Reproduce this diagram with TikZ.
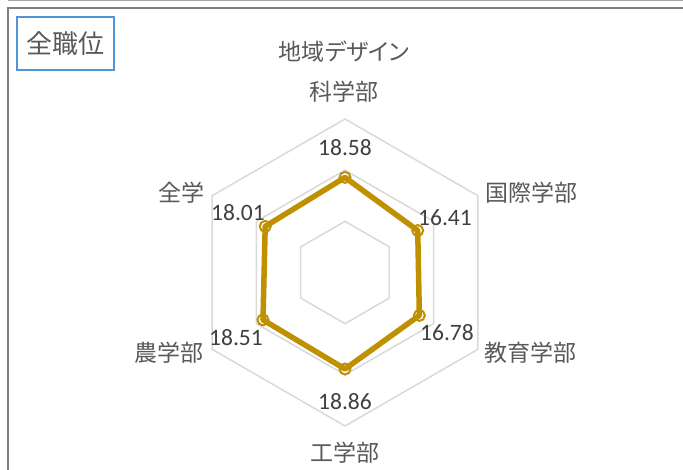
\documentclass[tikz,border=0pt]{standalone}
\usepackage{fontspec}
\newfontfamily\jpfont{Noto Sans CJK JP}
\newfontfamily\jppfont[RawFeature=+palt]{Noto Sans CJK JP}
\newfontfamily\numfont{Carlito}
\definecolor{gridc}{HTML}{D9D9D9}
\definecolor{serc}{HTML}{BF9000}
\definecolor{catc}{HTML}{595959}
\definecolor{valc}{HTML}{404040}
\definecolor{boxc}{HTML}{4F95D8}
\definecolor{framec}{HTML}{7F7F7F}
\definecolor{topc}{HTML}{A6A6A6}
\begin{document}
\begin{tikzpicture}[x=1bp,y=1bp,
  cat/.style={text=catc,font=\jpfont\fontsize{23bp}{26bp}\selectfont,inner sep=0pt},
  val/.style={text=valc,font=\numfont\fontsize{23.5bp}{26bp}\selectfont,inner sep=0pt},
  titletext/.style={inner sep=0pt,text=catc,font=\jpfont\fontsize{26bp}{30bp}\selectfont},
  boxline/.style={draw=boxc,line width=2bp},
  gridline/.style={gridc,line width=1.5bp,line join=miter},
  series/.style={serc,line width=5.5bp,line join=round},
  marker/.style={serc,line width=2bp}]
\useasboundingbox (0,0) rectangle (683,-470);
\fill[white] (0,0) rectangle (683,-470);
% outer frame
\draw[topc,line width=1.5bp] (8,-0.75) -- (690,-0.75);
\draw[framec,line width=2bp] (8,-480) -- (8,-8) -- (690,-8);
% title
\node[titletext] (title) at (65.5,-43.5) {全職位};
\draw[boxline] ([xshift=-48bp,yshift=26.5bp]title.center) rectangle ([xshift=48bp,yshift=-26.5bp]title.center);
% radar
\begin{scope}[shift={(345,-272.5)}]
  \foreach \r in {51.17,102.33,153.5}
    \draw[gridline] (90:\r) -- (30:\r) -- (-30:\r) -- (-90:\r) -- (-150:\r) -- (150:\r) -- cycle;
  \coordinate (p1) at (90:95.07);
  \coordinate (p2) at (30:83.97);
  \coordinate (p3) at (-30:85.86);
  \coordinate (p4) at (-90:96.50);
  \coordinate (p5) at (-150:94.71);
  \coordinate (p6) at (150:92.15);
  \draw[series] (p1) -- (p2) -- (p3) -- (p4) -- (p5) -- (p6) -- cycle;
  \foreach \p in {p1,p2,p3,p4,p5,p6}
    \draw[marker] (\p) circle (5.5bp);
\end{scope}
% category labels
\node[cat,font=\jppfont\fontsize{23bp}{26bp}\selectfont] (cTopA) at (344,-52) {地域デザイン};
\node[cat] (cTopB) at (344,-92) {科学部};
\node[cat] (cUR) at (531.5,-193) {国際学部};
\node[cat] (cLR) at (530.5,-353) {教育学部};
\node[cat] (cB) at (345,-453) {工学部};
\node[cat] (cLL) at (169,-353) {農学部};
\node[cat] (cUL) at (181.5,-193) {全学};
% value labels
\node[val] (v1) at (345,-148) {18.58};
\node[val] (v2) at (445,-218) {16.41};
\node[val] (v3) at (447,-333) {16.78};
\node[val] (v4) at (345,-402) {18.86};
\node[val] (v5) at (236,-337.5) {18.51};
\node[val] (v6) at (238,-213) {18.01};
\end{tikzpicture}
\end{document}
